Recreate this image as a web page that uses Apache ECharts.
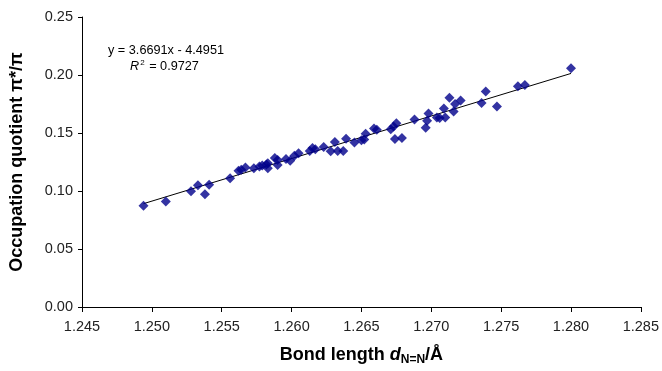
<!DOCTYPE html>
<html>
<head>
<meta charset="utf-8">
<script src="https://cdn.jsdelivr.net/npm/echarts@6/dist/echarts.min.js"></script>
<style>
  html, body { margin: 0; padding: 0; background: #fff; }
  #chart { width: 662px; height: 371px; }
</style>
</head>
<body>
<div id="chart"></div>
<script>
// bond length d(N=N) in Å
var bondLength = [
    1.2494, 1.2510, 1.2528, 1.2533, 1.2538, 1.2541, 1.2556, 1.2562, 1.2564, 1.2567,
    1.2573, 1.2577, 1.2579, 1.2582, 1.2583, 1.2583, 1.2588, 1.2590, 1.2590, 1.2596,
    1.2599, 1.2602, 1.2605, 1.2613, 1.2615, 1.2617, 1.2623, 1.2628, 1.2631, 1.2633,
    1.2637, 1.2639, 1.2645, 1.2650, 1.2652, 1.2653, 1.2659, 1.2661, 1.2671, 1.2673,
    1.2674, 1.2675, 1.2679, 1.2688, 1.2696, 1.2697, 1.2698, 1.2704, 1.2706, 1.2709,
    1.2710, 1.2713, 1.2716, 1.2717, 1.2721, 1.2736, 1.2739, 1.2747, 1.2762, 1.2767,
    1.2800
];
// occupation quotient pi*/pi
var quotient = [
    0.0872, 0.0909, 0.0998, 0.1049, 0.0973, 0.1054, 0.1110, 0.1174, 0.1183, 0.1202,
    0.1197, 0.1211, 0.1219, 0.1228, 0.1239, 0.1197, 0.1284, 0.1267, 0.1225, 0.1275,
    0.1261, 0.1303, 0.1326, 0.1345, 0.1370, 0.1359, 0.1379, 0.1342, 0.1423, 0.1345,
    0.1345, 0.1451, 0.1418, 0.1437, 0.1443, 0.1493, 0.1538, 0.1527, 0.1532, 0.1555,
    0.1448, 0.1583, 0.1457, 0.1616, 0.1546, 0.1605, 0.1669, 0.1633, 0.1630, 0.1711,
    0.1633, 0.1804, 0.1686, 0.1750, 0.1781, 0.1759, 0.1857, 0.1728, 0.1904, 0.1913,
    0.2058
];

// linear trendline from the chart
var slope = 3.6691;
var intercept = -4.4951;
var rSquared = 0.9727;
var trendX = [1.2494, 1.2800];

var points = bondLength.map(function (x, i) { return [x, quotient[i]]; });
var trend = trendX.map(function (x) { return [x, slope * x + intercept]; });

var font = 'Liberation Sans, Arial, sans-serif';

var chart = echarts.init(document.getElementById('chart'));

var option = {
    animation: false,
    textStyle: { fontFamily: font },
    grid: { left: 80, right: 17, top: 17, bottom: 55, containLabel: false },
    xAxis: {
        type: 'value',
        min: 1.245,
        max: 1.285,
        interval: 0.005,
        name: '{b|Bond length }{i|d}{s|N=N}{b|/Å}',
        nameLocation: 'middle',
        nameGap: 38,
        nameTextStyle: {
            rich: {
                b: { fontFamily: font, fontSize: 18, fontWeight: 'bold', color: '#000' },
                i: { fontFamily: font, fontSize: 18, fontWeight: 'bold', fontStyle: 'italic', color: '#000' },
                s: { fontFamily: font, fontSize: 12, fontWeight: 'bold', color: '#000', padding: [9, 0, 0, 0] }
            }
        },
        axisLine: { lineStyle: { color: '#000', width: 1 } },
        axisTick: { inside: false, length: 5, lineStyle: { color: '#000' } },
        axisLabel: {
            color: '#222', fontSize: 14.5, margin: 12,
            formatter: function (v) { return v.toFixed(3); }
        },
        splitLine: { show: false }
    },
    yAxis: {
        type: 'value',
        min: 0,
        max: 0.25,
        interval: 0.05,
        name: 'Occupation quotient π*/π',
        nameLocation: 'middle',
        nameGap: 56,
        nameTextStyle: { fontSize: 18, fontWeight: 'bold', color: '#000' },
        axisLine: { show: true, lineStyle: { color: '#000', width: 1 } },
        axisTick: { show: true, inside: false, length: 4, lineStyle: { color: '#000' } },
        axisLabel: {
            color: '#222', fontSize: 14.5, margin: 9,
            formatter: function (v) { return v.toFixed(2); }
        },
        splitLine: { show: false }
    },
    graphic: [
        {
            type: 'text', left: 108, top: 44,
            style: { text: 'y = ' + slope + 'x - ' + Math.abs(intercept), fontFamily: font, fontSize: 12.7, fill: '#000' }
        },
        {
            type: 'text', left: 130, top: 59,
            style: {
                text: '{i|R}{sup|2}{n| = ' + rSquared + '}',
                rich: {
                    i: { fontFamily: font, fontSize: 12.7, fontStyle: 'italic', fill: '#000' },
                    sup: { fontFamily: font, fontSize: 8, fill: '#000', padding: [0, 1, 7, 1] },
                    n: { fontFamily: font, fontSize: 12.7, fill: '#000' }
                }
            }
        }
    ],
    series: [
        {
            type: 'scatter',
            data: points,
            symbol: 'diamond',
            symbolSize: 10,
            itemStyle: { color: '#00008b' },
            z: 3
        },
        {
            type: 'line',
            data: trend,
            symbol: 'none',
            lineStyle: { color: '#000', width: 1 },
            z: 2
        }
    ]
};

chart.setOption(option);
</script>
</body>
</html>
